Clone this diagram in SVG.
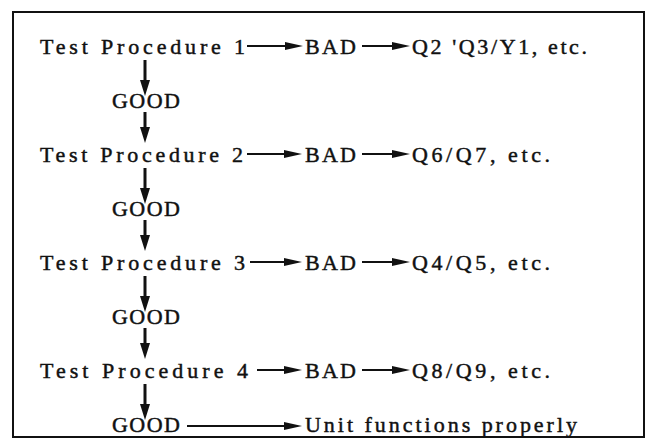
<svg xmlns="http://www.w3.org/2000/svg" width="652" height="448" viewBox="0 0 652 448">
<defs>
<style>
text{font-family:"Liberation Serif","Times New Roman",serif;font-size:22px;fill:#111;stroke:#111;stroke-width:0.45;}
.h{stroke:#111;stroke-width:2;fill:none;marker-end:url(#ah);}
.v{stroke:#111;stroke-width:3;fill:none;marker-end:url(#av);}
.frame{fill:#fff;stroke:#111;stroke-width:2;}
</style>
<marker id="ah" markerUnits="userSpaceOnUse" markerWidth="18" markerHeight="8" refX="8" refY="4" orient="auto">
<path d="M0,0 L18,4 L0,8 z" fill="#111"/>
</marker>
<marker id="av" markerUnits="userSpaceOnUse" markerWidth="16" markerHeight="10" refX="6" refY="5" orient="auto">
<path d="M0,0 L16,5 L0,10 z" fill="#111"/>
</marker>
</defs>
<rect width="652" height="448" fill="#fff"/>
<rect class="frame" x="13" y="12" width="631" height="425"/>
<g id="tp1"><text x="40" y="54" textLength="205">Test Procedure 1</text></g>
<g id="bad1"><text x="305" y="54" textLength="51">BAD</text></g>
<g id="res1"><text x="412" y="54" textLength="175">Q2 'Q3/Y1, etc.</text></g>
<g id="good1"><text x="112" y="108" textLength="68">GOOD</text></g>
<g id="tp2"><text x="40" y="162" textLength="203">Test Procedure 2</text></g>
<g id="bad2"><text x="305" y="162" textLength="51">BAD</text></g>
<g id="res2"><text x="412" y="162" textLength="138">Q6/Q7, etc.</text></g>
<g id="good2"><text x="112" y="216" textLength="68">GOOD</text></g>
<g id="tp3"><text x="40" y="270" textLength="205">Test Procedure 3</text></g>
<g id="bad3"><text x="305" y="270" textLength="51">BAD</text></g>
<g id="res3"><text x="412" y="270" textLength="138">Q4/Q5, etc.</text></g>
<g id="good3"><text x="112" y="324" textLength="68">GOOD</text></g>
<g id="tp4"><text x="40" y="378" textLength="208">Test Procedure 4</text></g>
<g id="bad4"><text x="305" y="378" textLength="51">BAD</text></g>
<g id="res4"><text x="412" y="378" textLength="138">Q8/Q9, etc.</text></g>
<g id="good4"><text x="112" y="432" textLength="68">GOOD</text></g>
<g id="unit"><text x="305" y="432" textLength="272">Unit functions properly</text></g>
<g id="connectors">
<line class="h" x1="247" y1="46" x2="293" y2="46"/>
<line class="h" x1="362" y1="46" x2="400" y2="46"/>
<line class="h" x1="247" y1="154" x2="292" y2="154"/>
<line class="h" x1="362" y1="154" x2="400" y2="154"/>
<line class="h" x1="250" y1="262" x2="292" y2="262"/>
<line class="h" x1="362" y1="262" x2="400" y2="262"/>
<line class="h" x1="257" y1="370" x2="292" y2="370"/>
<line class="h" x1="362" y1="370" x2="400" y2="370"/>
<line class="h" x1="187" y1="426" x2="292" y2="426"/>
<line class="v" x1="145" y1="60" x2="145" y2="86"/>
<line class="v" x1="145" y1="112" x2="145" y2="133"/>
<line class="v" x1="145" y1="168" x2="145" y2="194"/>
<line class="v" x1="145" y1="220" x2="145" y2="241"/>
<line class="v" x1="145" y1="276" x2="145" y2="302"/>
<line class="v" x1="145" y1="328" x2="145" y2="349"/>
<line class="v" x1="145" y1="384" x2="145" y2="410"/>
</g>
</svg>
